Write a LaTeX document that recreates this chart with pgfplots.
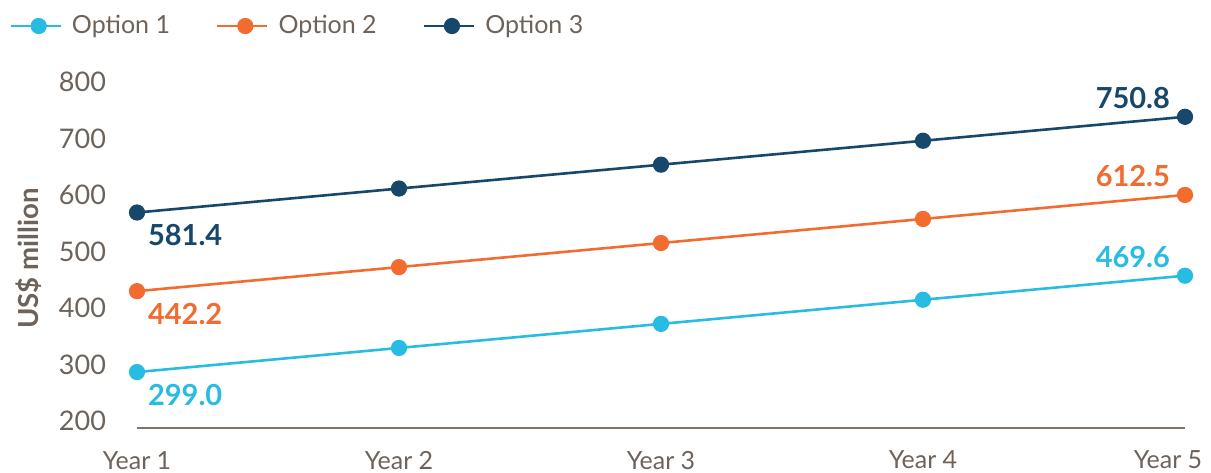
\documentclass[border=0pt]{standalone}
\usepackage{pgfplots}
\pgfplotsset{compat=1.18}
\usepackage{fontspec}
\setmainfont{Lato}
\definecolor{optA}{HTML}{29BCE3}
\definecolor{optB}{HTML}{F26B2F}
\definecolor{optC}{HTML}{17476B}
\definecolor{txt}{HTML}{6E635B}
\definecolor{axl}{HTML}{7D736C}
\begin{document}
\begin{tikzpicture}
\begin{axis}[
  at={(0,0)}, anchor=south west,
  scale only axis, width=524pt, height=169.5pt,
  xmin=0, xmax=4, ymin=200, ymax=800,
  xtick={0,1,2,3,4},
  xticklabels={Year 1,Year 2,Year 3,Year 4,\hspace*{-17pt}Year 5},
  ytick={200,300,400,500,600,700,800},
  axis x line*=bottom, axis y line*=left,
  x axis line style={draw=axl, line width=0.6pt, -},
  y axis line style={draw=none},
  major tick length=0pt,
  tick label style={text=txt},
  xticklabel style={font=\fontsize{12.5}{14}\selectfont, yshift=-8pt},
  yticklabel style={font=\fontsize{13.5}{15}\selectfont, xshift=-12pt, yshift=3.5pt},
  /pgf/number format/assume math mode=true,
  ylabel={\bfseries US\$ million},
  ylabel style={at={(axis description cs:-0.103,0.5)}, anchor=center, rotate=0,
    font=\fontsize{13.8}{15}\selectfont, text=txt},
  clip=false,
  legend columns=3,
  legend style={draw=none, fill=none, at={(0,1)}, anchor=west, xshift=-67pt, yshift=31.5pt,
    font=\fontsize{12.5}{14}\selectfont, text=txt,
    /tikz/every odd column/.append style={column sep=3pt},
    /tikz/every even column/.append style={column sep=21pt}},
  legend image code/.code={
    \draw[#1, mark=none] (0pt,0pt) -- (25pt,0pt);
    \draw[#1, only marks] plot coordinates {(14pt,0pt)};
  },
]
\addplot[optA, line width=1.3pt, mark=*, mark size=3.4pt] coordinates {(0,299.0) (1,341.7) (2,384.3) (3,427.0) (4,469.6)};
\addlegendentry{Option 1}
\addplot[optB, line width=1.3pt, mark=*, mark size=3.4pt] coordinates {(0,442.2) (1,484.8) (2,527.4) (3,570.0) (4,612.5)};
\addlegendentry{Option 2}
\addplot[optC, line width=1.3pt, mark=*, mark size=3.4pt] coordinates {(0,581.4) (1,623.8) (2,666.1) (3,708.4) (4,750.8)};
\addlegendentry{Option 3}
% data labels
\addplot[draw=none, forget plot, nodes near coords, point meta=explicit symbolic,
  nodes near coords style={anchor=north west, xshift=2pt, yshift=-2.5pt, font=\bfseries\fontsize{14.5}{16}\selectfont, text=optA}]
  coordinates {(0,299.0)[299.0]};
\addplot[draw=none, forget plot, nodes near coords, point meta=explicit symbolic,
  nodes near coords style={anchor=north west, xshift=2pt, yshift=-2.5pt, font=\bfseries\fontsize{14.5}{16}\selectfont, text=optB}]
  coordinates {(0,442.2)[442.2]};
\addplot[draw=none, forget plot, nodes near coords, point meta=explicit symbolic,
  nodes near coords style={anchor=north west, xshift=2pt, yshift=-2.5pt, font=\bfseries\fontsize{14.5}{16}\selectfont, text=optC}]
  coordinates {(0,581.4)[581.4]};
\addplot[draw=none, forget plot, nodes near coords, point meta=explicit symbolic,
  nodes near coords style={anchor=south east, xshift=-4pt, yshift=0.5pt, font=\bfseries\fontsize{14.5}{16}\selectfont, text=optA}]
  coordinates {(4,469.6)[469.6]};
\addplot[draw=none, forget plot, nodes near coords, point meta=explicit symbolic,
  nodes near coords style={anchor=south east, xshift=-4pt, yshift=0.5pt, font=\bfseries\fontsize{14.5}{16}\selectfont, text=optB}]
  coordinates {(4,612.5)[612.5]};
\addplot[draw=none, forget plot, nodes near coords, point meta=explicit symbolic,
  nodes near coords style={anchor=south east, xshift=-4pt, yshift=0.5pt, font=\bfseries\fontsize{14.5}{16}\selectfont, text=optC}]
  coordinates {(4,750.8)[750.8]};
\end{axis}
\pgfresetboundingbox
\path (-68.5pt,-22pt) rectangle (537pt,214pt);
\end{tikzpicture}
\end{document}
